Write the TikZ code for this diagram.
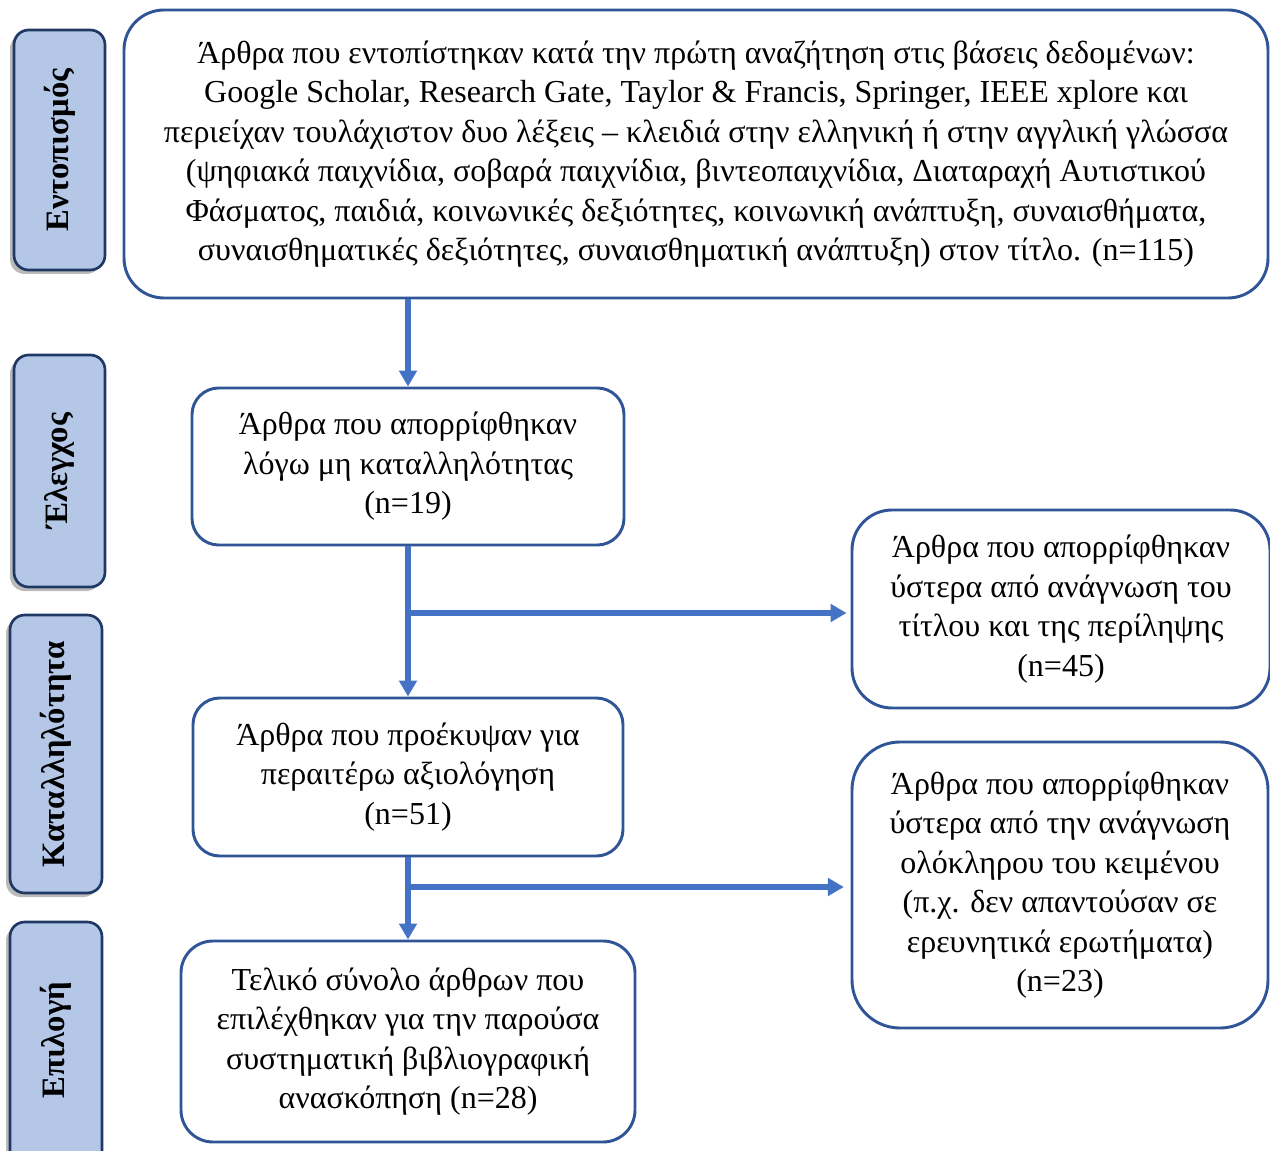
\documentclass[tikz,border=0pt]{standalone}
\usepackage{fontspec}
\setmainfont{Liberation Serif}
\usetikzlibrary{arrows.meta,shadows}
\definecolor{boxline}{HTML}{2F5597}
\definecolor{arrowblue}{HTML}{4472C4}
\definecolor{sidefill}{HTML}{B4C7E7}
\definecolor{sideline}{HTML}{203864}
\tikzset{
  mainbox/.style={draw=boxline, line width=2.2pt, fill=white, align=center, inner sep=0pt,
    font=\fontsize{24pt}{29.6pt}\selectfont},
  sidebox/.style={draw=sideline, line width=2pt, fill=sidefill, rounded corners=11pt,
    inner sep=0pt,
    drop shadow={shadow xshift=-3pt, shadow yshift=-3pt, opacity=0.45, fill=black!60}},
  sidetext/.style={rotate=90, font=\fontsize{24.5pt}{28pt}\selectfont\bfseries},
  arr/.style={draw=arrowblue, line width=4pt, -{Triangle[length=12pt,width=13pt]}}
}
\begin{document}
\begin{tikzpicture}[x=0.75pt,y=-0.75pt]
\useasboundingbox (0,0) rectangle (1270,1151);
% side labels
\node[sidebox, minimum width={91*0.75pt}, minimum height={240*0.75pt}] (s1) at (59.5,150) {};
\node[sidetext] (s1t) at (s1.center) {Εντοπισμός};
\node[sidebox, minimum width={91*0.75pt}, minimum height={232*0.75pt}] (s2) at (59.5,471) {};
\node[sidetext] (s2t) at (s2.center) {Έλεγχος};
\node[sidebox, minimum width={92*0.75pt}, minimum height={278*0.75pt}] (s3) at (56,754) {};
\node[sidetext] (s3t) at (s3.center) {Καταλληλότητα};
\node[sidebox, minimum width={92*0.75pt}, minimum height={250*0.75pt}] (s4) at (56,1047) {};
\node[sidetext] (s4t) at (56,1040) {Επιλογή};
% main boxes
\node[mainbox, rounded corners=30pt, minimum width={1144*0.75pt}, minimum height={288*0.75pt}] (top) at (696,154)
 {Άρθρα που εντοπίστηκαν κατά την πρώτη αναζήτηση στις βάσεις δεδομένων:\\
  Google Scholar, Research Gate, Taylor \& Francis, Springer, IEEE xplore και\\
  περιείχαν τουλάχιστον δυο λέξεις – κλειδιά στην ελληνική ή στην αγγλική γλώσσα\\
  (ψηφιακά παιχνίδια, σοβαρά παιχνίδια, βιντεοπαιχνίδια, Διαταραχή Αυτιστικού\\
  Φάσματος, παιδιά, κοινωνικές δεξιότητες, κοινωνική ανάπτυξη, συναισθήματα,\\
  συναισθηματικές δεξιότητες, συναισθηματική ανάπτυξη) στον τίτλο. (n=115)};
\node[mainbox, rounded corners=20pt, minimum width={432*0.75pt}, minimum height={157*0.75pt}] (b2) at (408,466.5)
 {Άρθρα που απορρίφθηκαν\\ λόγω μη καταλληλότητας\\ (n=19)};
\node[mainbox, rounded corners=30pt, minimum width={418*0.75pt}, minimum height={198*0.75pt}] (r1) at (1061,609)
 {Άρθρα που απορρίφθηκαν\\ ύστερα από ανάγνωση του\\ τίτλου και της περίληψης\\ (n=45)};
\node[mainbox, rounded corners=20pt, minimum width={430*0.75pt}, minimum height={158*0.75pt}] (b3) at (408,777)
 {Άρθρα που προέκυψαν για\\ περαιτέρω αξιολόγηση\\ (n=51)};
\node[mainbox, rounded corners=36pt, minimum width={416*0.75pt}, minimum height={286*0.75pt}] (r2) at (1060,885)
 {Άρθρα που απορρίφθηκαν\\ ύστερα από την ανάγνωση\\ ολόκληρου του κειμένου\\ (π.χ. δεν απαντούσαν σε\\ ερευνητικά ερωτήματα)\\ (n=23)};
\node[mainbox, rounded corners=24pt, minimum width={454*0.75pt}, minimum height={201*0.75pt}] (b4) at (408,1041.5)
 {Τελικό σύνολο άρθρων που\\ επιλέχθηκαν για την παρούσα\\ συστηματική βιβλιογραφική\\ ανασκόπηση (n=28)};
% connectors
\draw[arr] (b2.north |- top.south) -- (b2.north);
\draw[arr] (b2.south) -- (b3.north);
\coordinate (j1) at (408,613);
\draw[arr, shorten >=3pt] (j1) -- (r1.west |- j1);
\draw[arr] (b3.south) -- (b4.north);
\coordinate (j2) at (408,887);
\draw[arr, shorten >=5pt] (j2) -- (r2.west |- j2);
\end{tikzpicture}
\end{document}
